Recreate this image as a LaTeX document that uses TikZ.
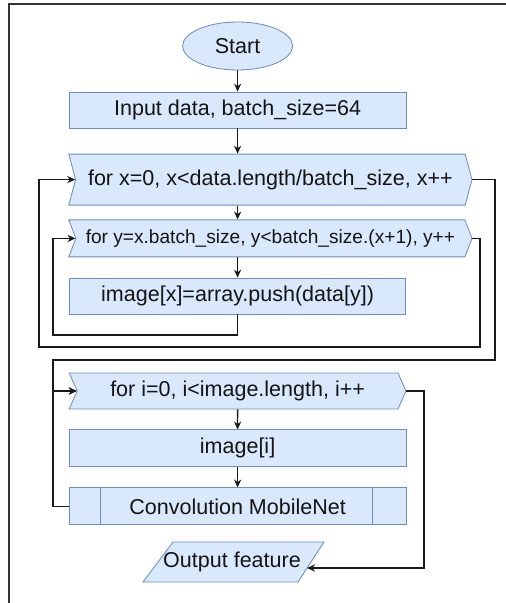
\documentclass[tikz,border=0pt]{standalone}
\usepackage{fontspec}
\setmainfont{Liberation Sans}
\usepackage{tikz}
\usetikzlibrary{arrows.meta}
\usetikzlibrary{shapes.geometric}
\usetikzlibrary{shapes.symbols}
\definecolor{mfill}{HTML}{DAE8FC}
\definecolor{mline}{HTML}{6C8EBF}
\tikzset{
    procbox/.style={draw=mline, fill=mfill, line width=0.6pt, minimum height=0.9cm, inner sep=0pt, text=black!92, font=\fontsize{15.3}{18}\selectfont},
    loopbox/.style={procbox, signal, signal from=west, signal to=east},
    flowarr/.style={line width=0.9pt, black!90, -{Stealth[length=2mm, width=1.8mm]}},
}

\begin{document}
\begin{tikzpicture}
    \useasboundingbox (0, 0) rectangle (12.65, -15.075);
    \draw [line width=1.4pt, black!80] (0.225, -15.075) -- (0.225, -0.1) -- (12.65, -0.1);

    \node [procbox, ellipse, minimum width=2.75cm, minimum height=1.2cm] (start) at (5.94, -1.15) {Start};
    \node [procbox, minimum width=8.42cm] (input) at (5.94, -2.75) {Input data, batch\_size=64};
    \node [loopbox, minimum width=10.08cm, minimum height=1.275cm, signal pointer angle=150] (forx) at (6.76, -4.49) {for x=0, x<data.length/batch\_size, x++};
    \node [loopbox, minimum width=10.08cm, minimum height=0.925cm, signal pointer angle=138, font=\fontsize{13.6}{16}\selectfont] (fory) at (6.76, -5.96) {for y=x.batch\_size, y<batch\_size.(x+1), y++};
    \node [procbox, minimum width=8.4cm] (imagex) at (5.94, -7.4) {image[x]=array.push(data[y])};
    \node [loopbox, minimum width=8.42cm, signal pointer angle=132] (fori) at (5.94, -9.775) {for i=0, i<image.length, i++};
    \node [procbox, minimum width=8.42cm, minimum height=0.925cm] (imagei) at (5.94, -11.21) {image[i]};
    \node [procbox, minimum width=8.42cm, minimum height=0.925cm] (conv) at (5.94, -12.66) {Convolution MobileNet};
    \draw [mline, line width=0.6pt] ([xshift=0.8cm]conv.north west) -- ([xshift=0.8cm]conv.south west);
    \draw [mline, line width=0.6pt] ([xshift=-0.85cm]conv.north east) -- ([xshift=-0.85cm]conv.south east);

    \draw [draw=mline, fill=mfill, line width=0.6pt] (4.325, -13.55) -- (8.1, -13.55) -- (7.45, -14.55) -- (3.575, -14.55) -- cycle;
    \node [text=black!92, font=\fontsize{15.3}{18}\selectfont] (output) at (5.8, -14.05) {Output feature};
    \coordinate (outin) at (7.675, -14.2);

    \draw [flowarr] (start) -- (input);
    \draw [flowarr] (input.south) -- (input.south |- forx.north);
    \draw [flowarr] (input.south |- forx.south) -- (input.south |- fory.north);
    \draw [flowarr] (imagex.north |- fory.south) -- (imagex.north);
    \draw [flowarr] (fori) -- (imagei);
    \draw [flowarr] (imagei) -- (conv);

    \draw [flowarr] (imagex.south) |- (1.325, -8.375) |- (fory.west);
    \draw [flowarr] (fory.east) -- (12, -5.96) |- (0.975, -8.675) |- (forx.west);
    \draw [flowarr] (forx.east) -- (12.375, -4.49) |- (1.325, -9) |- (fori.west);
    \draw [flowarr] (conv.west) -| (1.325, -9.775) -- (fori.west);
    \draw [flowarr] (fori.east) -- (10.6, -9.775) |- (outin);
\end{tikzpicture}
\end{document}
